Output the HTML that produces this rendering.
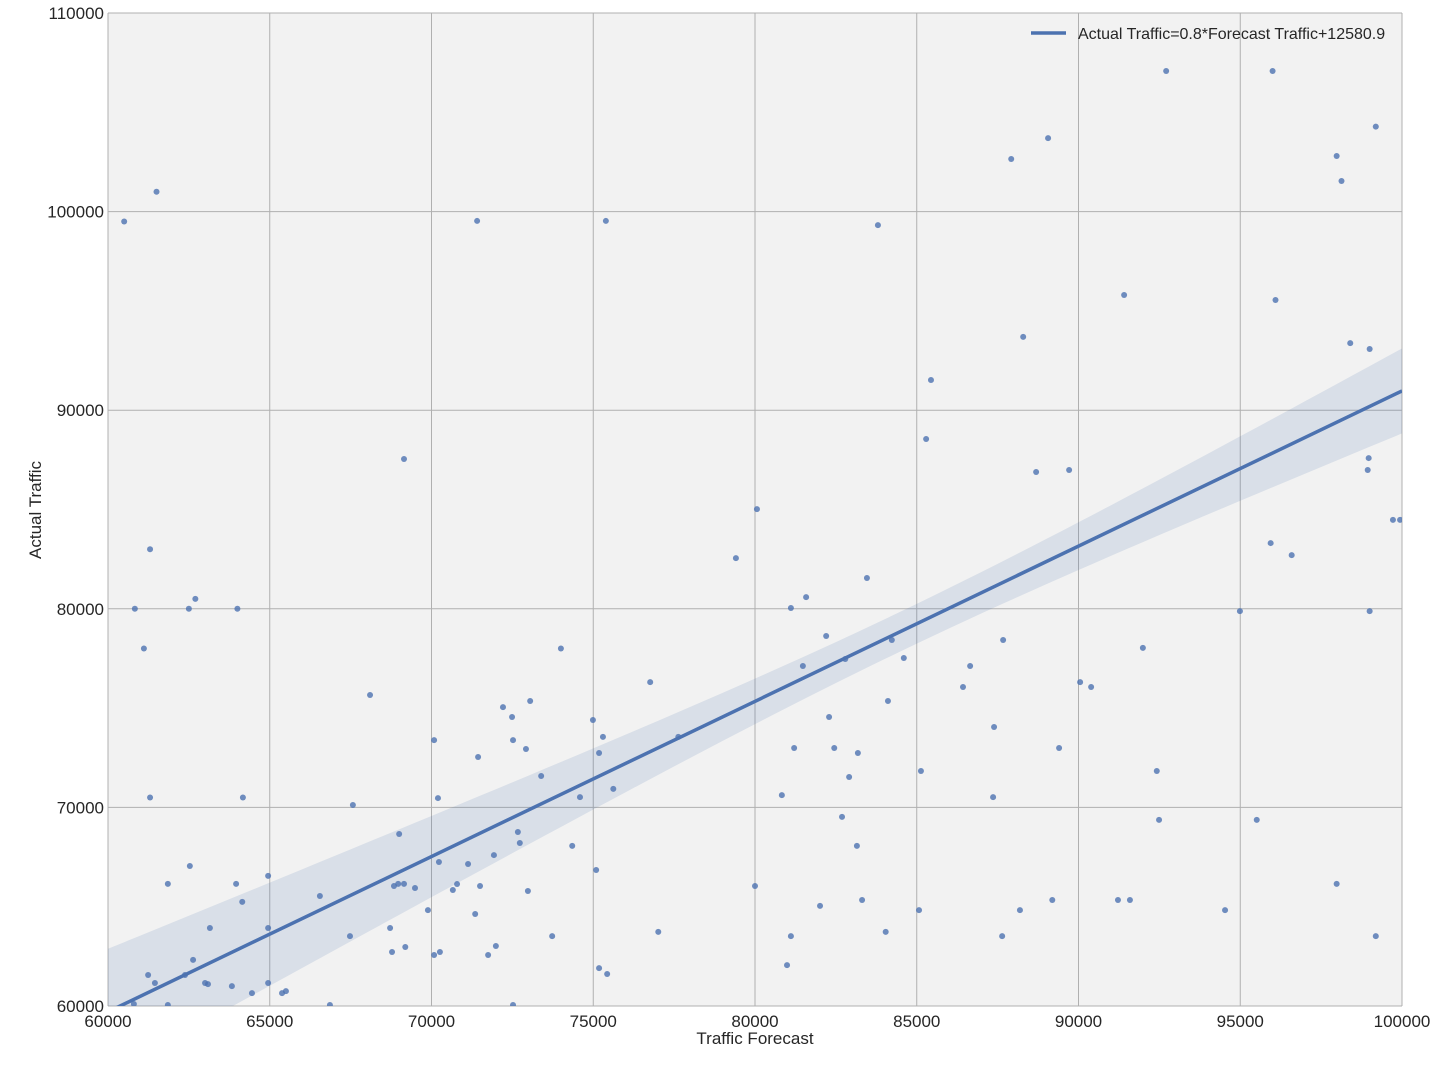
<!DOCTYPE html>
<html><head><meta charset="utf-8">
<style>
body{margin:0;background:#fff;font-family:"Liberation Sans",Arial,sans-serif;}
svg text{font-family:"Liberation Sans",Arial,sans-serif;fill:#262626;}
</style></head>
<body>
<svg id="chart" width="1435" height="1075" viewBox="0 0 1435 1075" xmlns="http://www.w3.org/2000/svg"></svg>
<script>
const forecast = [60500,61500,61300,60830,61110,61300,62700,62500,64000,64170,62530,61850,63960,64150,64950,64950,63150,61240,61450,62380,62630,63000,63090,63830,61850,64450,64950,65380,65500,60800,66550,66860,67480,67570,68100,69150,68720,68780,68840,68970,69150,69000,69190,69490,69890,70080,70080,70200,70230,70260,70660,70790,71130,71350,71410,71440,71500,71750,71930,71990,72210,72490,72520,72520,72670,72730,72920,72980,73050,73390,73730,74000,74350,74590,74990,75090,75180,75180,75300,75390,75430,75620,76760,77010,77630,79410,80060,80000,80830,80990,81110,81110,81210,81480,81580,82010,82200,82290,82450,82690,82790,82910,83150,83180,83310,83460,83800,84040,84110,84230,84600,85070,85130,85290,85440,86430,86650,87390,87360,87640,87670,87920,88190,88290,88690,89060,89190,89400,89710,90050,90390,91220,91410,91590,91990,92420,92490,92710,94990,94530,95510,95940,96000,96090,96590,97980,97980,98130,98400,98940,98970,99000,99000,99190,99190,99720,99940];
const actual = [99500,101000,83000,80000,78000,70500,80500,80000,80000,70500,67050,66150,66150,65240,66550,63930,63930,61560,61160,61560,62320,61160,61100,61000,60050,60650,61160,60650,60750,60100,65540,60050,63520,70120,75660,87540,63930,62720,66040,66150,66150,68660,62970,65940,64830,73390,62570,70470,67250,62720,65840,66140,67150,64630,99530,72540,66040,62570,67600,63020,75050,74550,73390,60050,68760,68210,72940,65790,75360,71580,63520,78000,68060,70520,74400,66850,72740,61910,73550,99530,61610,70930,76310,63730,73550,82550,85020,66040,70620,62060,80040,63520,72990,77120,80590,65040,78630,74550,72990,69520,77470,71530,68060,72740,65340,81550,99320,63730,75360,78430,77520,64830,71830,88550,91520,76060,77120,74050,70520,63520,78430,102650,64830,93690,86890,103700,65340,72990,86990,76310,76060,65340,95800,65340,78030,71830,69370,107080,79880,64830,69370,83310,107080,95550,82700,102800,66150,101540,93380,86990,87590,93080,79880,104280,63520,84480,84480];
const xTicks = [60000,65000,70000,75000,80000,85000,90000,95000,100000];
const yTicks = [60000,70000,80000,90000,100000,110000];
const fitParams = [0.7815, 12820];
const bandParams = [84560, 0.0150, 1.0e6];

const L=108,R=1402,T=13,B=1006;
const xs=v=>L+(v-60000)/40000*(R-L);
const ys=v=>B-(v-60000)/50000*(B-T);
const svg=document.getElementById('chart');
const NS='http://www.w3.org/2000/svg';
function mk(tag,attrs,parent){const e=document.createElementNS(NS,tag);for(const k in attrs)e.setAttribute(k,attrs[k]);(parent||svg).appendChild(e);return e;}

const defs=mk('defs',{});const cp=mk('clipPath',{id:'clip'},defs);mk('rect',{x:L,y:T,width:R-L,height:B-T},cp);
const bg=mk('rect',{x:L,y:T,width:R-L,height:B-T,fill:'#f2f2f2'});



const grid=mk('g',{stroke:'#b0b0b0','stroke-width':1});


xTicks.forEach(t=>{mk('line',{x1:xs(t),x2:xs(t),y1:T,y2:B},grid);
 const tx=mk('text',{x:xs(t),y:B+21,'text-anchor':'middle','font-size':17});tx.textContent=t;
 
 });
yTicks.forEach(t=>{mk('line',{x1:L,x2:R,y1:ys(t),y2:ys(t)},grid);
 const tx=mk('text',{x:L-4,y:ys(t)+6,'text-anchor':'end','font-size':17});tx.textContent=t;
 
 });

const fit=x=>fitParams[0]*x+fitParams[1];
const hw=x=>Math.sqrt(bandParams[2]+bandParams[1]*(x-bandParams[0])**2);
let up=[],lo=[];
for(let x=60000;x<=100000;x+=500){up.push(xs(x)+','+ys(fit(x)+hw(x)));lo.unshift(xs(x)+','+ys(fit(x)-hw(x)));}
const band=mk('polygon',{points:up.concat(lo).join(' '),fill:'#4c72b0','fill-opacity':0.15,'clip-path':'url(#clip)'});



const pts=mk('g',{fill:'#4c72b0','fill-opacity':0.8,'clip-path':'url(#clip)'});


forecast.forEach((f,i)=>{const c=mk('circle',{cx:xs(f),cy:ys(actual[i]),r:3},pts);
 
 });

const line=mk('line',{x1:xs(60000),y1:ys(fit(60000)),x2:xs(100000),y2:ys(fit(100000)),stroke:'#4c72b0','stroke-width':3.5,'clip-path':'url(#clip)'});



const lg=mk('g',{});


mk('line',{x1:1031,x2:1066,y1:33,y2:33,stroke:'#4c72b0','stroke-width':3.5},lg);
const lt=mk('text',{x:1078,y:39,'font-size':16},lg);lt.textContent='Actual Traffic=0.8*Forecast Traffic+12580.9';

const xl=mk('text',{x:(L+R)/2,y:1044,'text-anchor':'middle','font-size':17});xl.textContent='Traffic Forecast';


const yl=mk('text',{x:0,y:0,'text-anchor':'middle','font-size':17,transform:'translate(41,510) rotate(-90)'});yl.textContent='Actual Traffic';


</script>
</body></html>
